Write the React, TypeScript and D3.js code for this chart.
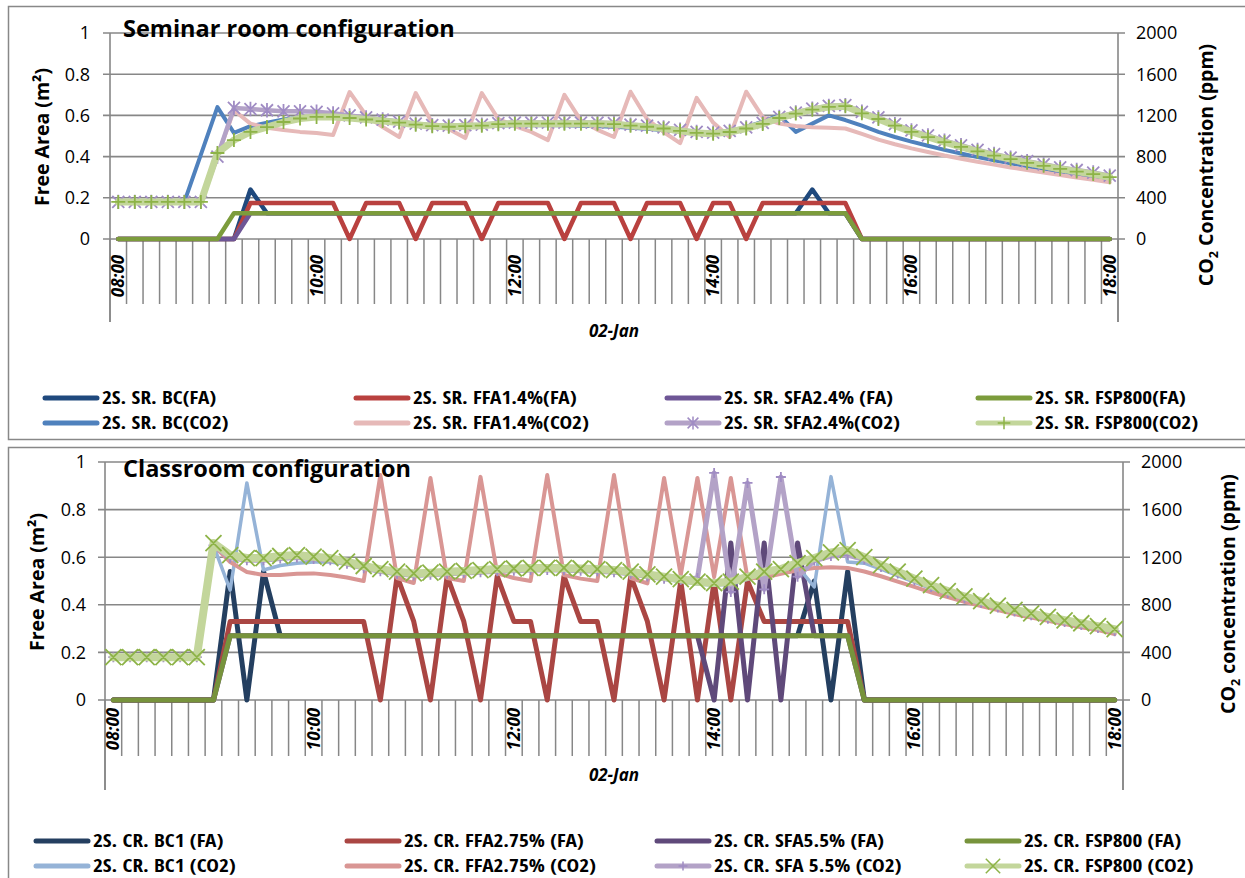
import React from "react";
import * as d3 from "d3";

// ---------- categories & ticks ----------
const CATEGORIES: string[] = d3.range(61).map((i) => {
  const m = 8 * 60 + i * 10;
  return `${String(Math.floor(m / 60)).padStart(2, "0")}:${String(m % 60).padStart(2, "0")}`;
});
const TICK_LABELS = ["08:00", "10:00", "12:00", "14:00", "16:00", "18:00"];
const DATE_LABEL = "02-Jan";
const FA_TICKS = [0, 0.2, 0.4, 0.6, 0.8, 1];
const CO2_TICKS = [0, 400, 800, 1200, 1600, 2000];

// ---------- Seminar room (top) ----------
const srBcFa = [
  0, 0, 0, 0, 0, 0, 0, 0, 0.24, 0.125,
  0.125, 0.125, 0.125, 0.125, 0.125, 0.125, 0.125, 0.125, 0.125, 0.125,
  0.125, 0.125, 0.125, 0.125, 0.125, 0.125, 0.125, 0.125, 0.125, 0.125,
  0.125, 0.125, 0.125, 0.125, 0.125, 0.125, 0.125, 0.125, 0.125, 0.125,
  0.125, 0.125, 0.24, 0.125, 0.125, 0, 0, 0, 0, 0,
  0, 0, 0, 0, 0, 0, 0, 0, 0, 0,
  0,
];
const srFfaFa = [
  0, 0, 0, 0, 0, 0, 0, 0, 0.175, 0.175,
  0.175, 0.175, 0.175, 0.175, 0, 0.175, 0.175, 0.175, 0, 0.175,
  0.175, 0.175, 0, 0.175, 0.175, 0.175, 0.175, 0, 0.175, 0.175,
  0.175, 0, 0.175, 0.175, 0.175, 0, 0.175, 0.175, 0, 0.175,
  0.175, 0.175, 0.175, 0.175, 0.175, 0, 0, 0, 0, 0,
  0, 0, 0, 0, 0, 0, 0, 0, 0, 0,
  0,
];
const srSfaFa = [
  0, 0, 0, 0, 0, 0, 0, 0, 0.125, 0.125,
  0.125, 0.125, 0.125, 0.125, 0.125, 0.125, 0.125, 0.125, 0.125, 0.125,
  0.125, 0.125, 0.125, 0.125, 0.125, 0.125, 0.125, 0.125, 0.125, 0.125,
  0.125, 0.125, 0.125, 0.125, 0.125, 0.125, 0.125, 0.125, 0.125, 0.125,
  0.125, 0.125, 0.125, 0.125, 0.125, 0, 0, 0, 0, 0,
  0, 0, 0, 0, 0, 0, 0, 0, 0, 0,
  0,
];
const srFspFa = [
  0, 0, 0, 0, 0, 0, 0, 0.125, 0.125, 0.125,
  0.125, 0.125, 0.125, 0.125, 0.125, 0.125, 0.125, 0.125, 0.125, 0.125,
  0.125, 0.125, 0.125, 0.125, 0.125, 0.125, 0.125, 0.125, 0.125, 0.125,
  0.125, 0.125, 0.125, 0.125, 0.125, 0.125, 0.125, 0.125, 0.125, 0.125,
  0.125, 0.125, 0.125, 0.125, 0.125, 0, 0, 0, 0, 0,
  0, 0, 0, 0, 0, 0, 0, 0, 0, 0,
  0,
];
const srBcCo2 = [
  360, 360, 360, 360, 360, 820, 1280, 1030, 1095, 1130,
  1160, 1180, 1190, 1185, 1170, 1155, 1140, 1125, 1115, 1105,
  1095, 1090, 1095, 1100, 1105, 1105, 1105, 1105, 1100, 1095,
  1090, 1080, 1070, 1055, 1040, 1025, 1020, 1040, 1085, 1140,
  1200, 1040, 1120, 1200, 1155, 1100, 1040, 990, 945, 905,
  865, 830, 795, 765, 735, 705, 680, 655, 630, 605,
  580,
];
const srFfaCo2 = [
  360, 360, 360, 360, 360, 360, 800, 1250, 1120, 1080,
  1058, 1040, 1030, 1010, 1427, 1200, 1087, 990, 1417, 1126,
  1068, 980, 1417, 1165, 1097, 1039, 960, 1400, 1150, 1060,
  990, 1430, 1165, 1039, 930, 1370, 1130, 990, 1430, 1184,
  1120, 1097, 1085, 1080, 1073, 1020, 965, 920, 880, 845,
  810, 780, 750, 722, 695, 670, 645, 620, 598, 575,
  550,
];
const srSfaCo2 = [
  360, 360, 360, 360, 360, 360, 800, 1272, 1262, 1250,
  1240, 1240, 1235, 1220, 1200, 1180, 1160, 1140, 1120, 1105,
  1100, 1105, 1110, 1125, 1130, 1130, 1130, 1130, 1130, 1130,
  1125, 1110, 1100, 1083, 1060, 1040, 1033, 1049, 1083, 1127,
  1185, 1228, 1266, 1292, 1300, 1235, 1180, 1115, 1055, 1005,
  955, 910, 865, 825, 790, 755, 725, 695, 670, 645,
  615,
];
const srFspCo2 = [
  360, 360, 360, 360, 360, 360, 835, 960, 1040, 1087,
  1136, 1170, 1185, 1185, 1175, 1160, 1145, 1130, 1110, 1095,
  1090, 1095, 1100, 1115, 1120, 1120, 1120, 1120, 1120, 1120,
  1115, 1100, 1090, 1073, 1050, 1030, 1023, 1039, 1073, 1117,
  1175, 1218, 1256, 1282, 1290, 1220, 1165, 1100, 1040, 990,
  940, 895, 850, 810, 775, 740, 710, 680, 655, 630,
  600,
];

// ---------- Classroom (bottom) ----------
const crBc1Fa = [
  0, 0, 0, 0, 0, 0, 0, 0.54, 0, 0.54,
  0.27, 0.27, 0.27, 0.27, 0.27, 0.27, 0.27, 0.27, 0.27, 0.27,
  0.27, 0.27, 0.27, 0.27, 0.27, 0.27, 0.27, 0.27, 0.27, 0.27,
  0.27, 0.27, 0.27, 0.27, 0.27, 0.27, 0.27, 0.27, 0.27, 0.27,
  0.27, 0.27, 0.5, 0, 0.54, 0, 0, 0, 0, 0,
  0, 0, 0, 0, 0, 0, 0, 0, 0, 0,
  0,
];
const crFfaFa = [
  0, 0, 0, 0, 0, 0, 0, 0.33, 0.33, 0.33,
  0.33, 0.33, 0.33, 0.33, 0.33, 0.33, 0, 0.52, 0.33, 0,
  0.52, 0.33, 0, 0.52, 0.33, 0.33, 0, 0.52, 0.33, 0.33,
  0, 0.52, 0.33, 0, 0.5, 0, 0.5, 0, 0.5, 0.33,
  0.33, 0.33, 0.33, 0.33, 0.33, 0, 0, 0, 0, 0,
  0, 0, 0, 0, 0, 0, 0, 0, 0, 0,
  0,
];
const crSfaFa = [
  0, 0, 0, 0, 0, 0, 0, 0.27, 0.27, 0.27,
  0.27, 0.27, 0.27, 0.27, 0.27, 0.27, 0.27, 0.27, 0.27, 0.27,
  0.27, 0.27, 0.27, 0.27, 0.27, 0.27, 0.27, 0.27, 0.27, 0.27,
  0.27, 0.27, 0.27, 0.27, 0.27, 0.27, 0, 0.66, 0, 0.66,
  0, 0.66, 0.27, 0.27, 0.27, 0, 0, 0, 0, 0,
  0, 0, 0, 0, 0, 0, 0, 0, 0, 0,
  0,
];
const crFspFa = [
  0, 0, 0, 0, 0, 0, 0, 0.27, 0.27, 0.27,
  0.27, 0.27, 0.27, 0.27, 0.27, 0.27, 0.27, 0.27, 0.27, 0.27,
  0.27, 0.27, 0.27, 0.27, 0.27, 0.27, 0.27, 0.27, 0.27, 0.27,
  0.27, 0.27, 0.27, 0.27, 0.27, 0.27, 0.27, 0.27, 0.27, 0.27,
  0.27, 0.27, 0.27, 0.27, 0.27, 0, 0, 0, 0, 0,
  0, 0, 0, 0, 0, 0, 0, 0, 0, 0,
  0,
];
const crBc1Co2 = [
  360, 360, 360, 360, 360, 360, 1300, 924, 1824, 1092,
  1130, 1150, 1160, 1160, 1140, 1105, 1075, 1055, 1045, 1050,
  1058, 1065, 1072, 1080, 1085, 1090, 1090, 1090, 1085, 1080,
  1072, 1058, 1035, 1015, 995, 975, 965, 975, 1015, 1055,
  1080, 1120, 950, 1877, 1160, 1150, 1100, 1045, 990, 935,
  885, 840, 800, 765, 730, 700, 672, 645, 620, 597,
  572,
];
const crFfaCo2 = [
  360, 360, 360, 360, 360, 360, 1300, 1160, 1076, 1050,
  1050, 1060, 1064, 1050, 1030, 1000, 1890, 1025, 983, 1866,
  1025, 1000, 1875, 1064, 1025, 1000, 1890, 1050, 1020, 1000,
  1890, 1025, 980, 1866, 1050, 1866, 1034, 1866, 1022, 1030,
  1060, 1090, 1110, 1115, 1110, 1080, 1040, 995, 950, 905,
  865, 825, 790, 755, 722, 692, 665, 638, 612, 588,
  555,
];
const crSfaCo2 = [
  360, 360, 360, 360, 360, 360, 1300, 1195, 1175, 1175,
  1190, 1198, 1185, 1175, 1145, 1108, 1082, 1060, 1046, 1052,
  1060, 1067, 1074, 1082, 1087, 1092, 1092, 1092, 1087, 1082,
  1074, 1060, 1037, 1018, 1008, 1025, 1908, 908, 1824, 930,
  1874, 1036, 1170, 1210, 1218, 1180, 1118, 1062, 1005, 950,
  900, 855, 815, 778, 743, 712, 683, 655, 630, 605,
  578,
];
const crFspCo2 = [
  360, 360, 360, 360, 360, 360, 1319, 1218, 1193, 1193,
  1210, 1218, 1204, 1193, 1162, 1126, 1100, 1078, 1064, 1070,
  1078, 1085, 1092, 1100, 1105, 1110, 1110, 1110, 1105, 1100,
  1092, 1078, 1055, 1036, 1015, 994, 983, 994, 1036, 1078,
  1100, 1151, 1193, 1240, 1260, 1200, 1134, 1078, 1020, 965,
  915, 870, 830, 793, 758, 727, 698, 670, 645, 620,
  595,
];

const SR_LABELS = [
  "2S. SR. BC(FA)", "2S. SR. FFA1.4%(FA)", "2S. SR. SFA2.4% (FA)", "2S. SR. FSP800(FA)",
  "2S. SR. BC(CO2)", "2S. SR. FFA1.4%(CO2)", "2S. SR. SFA2.4%(CO2)", "2S. SR. FSP800(CO2)",
];
const CR_LABELS = [
  "2S. CR. BC1 (FA)", "2S. CR. FFA2.75% (FA)", "2S. CR. SFA5.5% (FA)", "2S. CR. FSP800 (FA)",
  "2S. CR. BC1 (CO2)", "2S. CR. FFA2.75% (CO2)", "2S. CR. SFA 5.5% (CO2)", "2S. CR. FSP800 (CO2)",
];

type Marker = "none" | "plus" | "cross" | "star";
interface Series {
  label: string;
  data: number[];
  axis: "L" | "R";
  color: string;
  width: number;
  marker: Marker;
  markerColor?: string;
  markerSize?: number;
}

const SR_SERIES: Series[] = [
  { label: SR_LABELS[0], data: srBcFa, axis: "L", color: "#1F497D", width: 4.5, marker: "none" },
  { label: SR_LABELS[1], data: srFfaFa, axis: "L", color: "#B9413F", width: 4.5, marker: "none" },
  { label: SR_LABELS[2], data: srSfaFa, axis: "L", color: "#6E5696", width: 4.5, marker: "none" },
  { label: SR_LABELS[3], data: srFspFa, axis: "L", color: "#7C9C3C", width: 4.5, marker: "none" },
  { label: SR_LABELS[4], data: srBcCo2, axis: "R", color: "#4F81BD", width: 4, marker: "none" },
  { label: SR_LABELS[5], data: srFfaCo2, axis: "R", color: "#E6B9B8", width: 4, marker: "none" },
  { label: SR_LABELS[6], data: srSfaCo2, axis: "R", color: "#B3A2C7", width: 4.5, marker: "star", markerColor: "#A08CC4", markerSize: 6 },
  { label: SR_LABELS[7], data: srFspCo2, axis: "R", color: "#C3D69B", width: 7, marker: "plus", markerColor: "#8DB347", markerSize: 7 },
];
const CR_SERIES: Series[] = [
  { label: CR_LABELS[0], data: crBc1Fa, axis: "L", color: "#243F60", width: 5, marker: "none" },
  { label: CR_LABELS[1], data: crFfaFa, axis: "L", color: "#AA4643", width: 5, marker: "none" },
  { label: CR_LABELS[2], data: crSfaFa, axis: "L", color: "#5F497A", width: 5, marker: "none" },
  { label: CR_LABELS[3], data: crFspFa, axis: "L", color: "#77933C", width: 5, marker: "none" },
  { label: CR_LABELS[4], data: crBc1Co2, axis: "R", color: "#95B3D7", width: 3.5, marker: "none" },
  { label: CR_LABELS[5], data: crFfaCo2, axis: "R", color: "#D99694", width: 4, marker: "none" },
  { label: CR_LABELS[6], data: crSfaCo2, axis: "R", color: "#B3A2C7", width: 5, marker: "plus", markerColor: "#A08CC4", markerSize: 5 },
  { label: CR_LABELS[7], data: crFspCo2, axis: "R", color: "#C3D69B", width: 8, marker: "cross", markerColor: "#8DB347", markerSize: 8 },
];

const GRID = "#878787";
const FONT = "'Open Sans', 'Noto Sans', sans-serif";
const LEGEND_FONT = "'Liberation Sans Narrow', 'Open Sans Condensed', 'Noto Sans', sans-serif";

function markerPath(m: Marker, x: number, y: number, s: number): string {
  if (m === "plus") return `M${x - s},${y}H${x + s}M${x},${y - s}V${y + s}`;
  if (m === "cross") return `M${x - s},${y - s}L${x + s},${y + s}M${x - s},${y + s}L${x + s},${y - s}`;
  if (m === "star")
    return `M${x - s},${y - s}L${x + s},${y + s}M${x - s},${y + s}L${x + s},${y - s}M${x},${y - s * 1.2}V${y + s * 1.2}`;
  return "";
}

interface PanelProps {
  series: Series[];
  title: string;
  titleY: number;
  left: number;
  right: number;
  top: number;
  bottom: number;
  tickBottom: number;
  axisBottom: number;
  catLabelY: number;
  dateY: number;
  leftTitle: { x: number; y: number };
  rightTitle: { x: number; y: number; text: string };
  leftLabelX: number;
  rightLabelX: number;
  legendRows: number[];
  legendCols: number[];
  frameY: number;
  frameH: number;
}

function Panel(p: PanelProps) {
  const x = d3.scaleBand<string>().domain(CATEGORIES).range([p.left, p.right]).padding(0);
  const bw = x.bandwidth();
  const cx = (i: number) => (x(CATEGORIES[i]) as number) + bw / 2;
  const yL = d3.scaleLinear().domain([0, 1]).range([p.bottom, p.top]);
  const yR = d3.scaleLinear().domain([0, 2000]).range([p.bottom, p.top]);
  const lineL = d3.line<number>().x((_, i) => cx(i)).y((d) => yL(d));
  const lineR = d3.line<number>().x((_, i) => cx(i)).y((d) => yR(d));

  const boundaries = d3.range(CATEGORIES.length + 1).map((k) => p.left + k * bw);

  return (
    <g>
      <rect x={8.5} y={p.frameY} width={1260} height={p.frameH} fill="#fff" stroke="#888" strokeWidth={1.5} />
      {FA_TICKS.map((t) => (
        <line key={"g" + t} x1={p.left - 7} x2={p.right + 7} y1={yL(t)} y2={yL(t)} stroke={GRID} strokeWidth={1.6} />
      ))}
      {boundaries.map((bx, k) => (
        <line
          key={"t" + k}
          x1={bx}
          x2={bx}
          y1={p.bottom}
          y2={k === 0 || k === CATEGORIES.length ? p.axisBottom : p.tickBottom}
          stroke={GRID}
          strokeWidth={1.5}
        />
      ))}
      <line x1={p.left} x2={p.left} y1={p.top} y2={p.axisBottom} stroke={GRID} strokeWidth={1.6} />
      <line x1={p.right} x2={p.right} y1={p.top} y2={p.axisBottom} stroke={GRID} strokeWidth={1.6} />
      {FA_TICKS.map((t) => (
        <text key={"l" + t} x={p.leftLabelX} y={yL(t)} dy="0.35em" textAnchor="end" fontFamily={FONT} fontSize={18}>
          {t === 0 || t === 1 ? String(t) : t.toFixed(1)}
        </text>
      ))}
      {CO2_TICKS.map((t) => (
        <text key={"r" + t} x={p.rightLabelX} y={yR(t)} dy="0.35em" textAnchor="start" fontFamily={FONT} fontSize={18}>
          {t}
        </text>
      ))}
      {CATEGORIES.map((c, i) =>
        TICK_LABELS.includes(c) ? (
          <text
            key={"c" + c}
            transform={`translate(${cx(i) + 6},${p.catLabelY}) rotate(-90)`}
            textAnchor="middle"
            fontFamily={FONT}
            fontSize={17}
            fontWeight="bold"
            fontStyle="italic"
          >
            {c}
          </text>
        ) : null
      )}
      <text x={(p.left + p.right) / 2} y={p.dateY} textAnchor="middle" fontFamily={FONT} fontSize={17} fontWeight="bold" fontStyle="italic">
        {DATE_LABEL}
      </text>
      <text
        transform={`translate(${p.leftTitle.x},${p.leftTitle.y}) rotate(-90)`}
        textAnchor="middle"
        dy="0.35em"
        fontFamily={FONT}
        fontSize={19.5}
        fontWeight="bold"
      >
        Free Area (m²)
      </text>
      <text
        transform={`translate(${p.rightTitle.x},${p.rightTitle.y}) rotate(-90)`}
        textAnchor="middle"
        dy="0.35em"
        fontFamily={FONT}
        fontSize={19.5}
        fontWeight="bold"
      >
        CO
        <tspan dy={5} fontSize={12.5}>2</tspan>
        <tspan dy={-5}>{" " + p.rightTitle.text}</tspan>
      </text>
      {p.series.map((s, si) => {
        const ln = s.axis === "L" ? lineL : lineR;
        const ys = s.axis === "L" ? yL : yR;
        const d = ln(s.data) || "";
        const mk =
          s.marker !== "none"
            ? s.data.map((v, i) => markerPath(s.marker, cx(i), ys(v), s.markerSize || 6)).join("")
            : "";
        return (
          <g key={"s" + si}>
            <path d={d} fill="none" stroke={s.color} strokeWidth={s.width} strokeLinejoin="round" strokeLinecap="round" />
            {mk && <path d={mk} fill="none" stroke={s.markerColor} strokeWidth={1.8} />}
          </g>
        );
      })}
      <text x={123} y={p.titleY} fontFamily={FONT} fontSize={23.5} fontWeight="bold">
        {p.title}
      </text>
      {p.series.map((s, si) => {
        const row = Math.floor(si / 4);
        const col = si % 4;
        const lx = p.legendCols[col];
        const ly = p.legendRows[row];
        const mx = lx + 26;
        return (
          <g key={"lg" + si}>
            <line x1={lx} x2={lx + 52} y1={ly} y2={ly} stroke={s.color} strokeWidth={5} strokeLinecap="round" />
            {s.marker !== "none" && (
              <path d={markerPath(s.marker, mx, ly, (s.markerSize || 6) * 0.9)} fill="none" stroke={s.markerColor} strokeWidth={1.5} />
            )}
            <text
              transform={`translate(${lx + 57},${ly}) scale(1.15,1)`}
              dy="0.35em"
              fontFamily={LEGEND_FONT}
              fontSize={18.5}
              fontWeight="bold"
            >
              {s.label}
            </text>
          </g>
        );
      })}
    </g>
  );
}

export default function App() {
  return (
    <svg
      width={1245}
      height={878}
      viewBox="0 0 1245 878"
      style={{ position: "absolute", left: 0, top: 0, display: "block", background: "#fff" }}
    >
      <rect x={0} y={0} width={1245} height={878} fill="#fff" />
      <Panel
        series={SR_SERIES}
        title="Seminar room configuration"
        titleY={37}
        left={110}
        right={1118}
        top={33}
        bottom={239}
        tickBottom={304}
        axisBottom={322}
        catLabelY={276}
        dateY={337}
        leftTitle={{ x: 42, y: 137 }}
        rightTitle={{ x: 1206, y: 165, text: "Concentration (ppm)" }}
        leftLabelX={90}
        rightLabelX={1136}
        legendRows={[398, 423]}
        legendCols={[45, 356, 667, 978]}
        frameY={6.5}
        frameH={433}
      />
      <Panel
        series={CR_SERIES}
        title="Classroom configuration"
        titleY={477}
        left={105}
        right={1123}
        top={462}
        bottom={700}
        tickBottom={756}
        axisBottom={790}
        catLabelY={729}
        dateY={781}
        leftTitle={{ x: 37, y: 582 }}
        rightTitle={{ x: 1228, y: 594, text: "concentration (ppm)" }}
        leftLabelX={86}
        rightLabelX={1141}
        legendRows={[841, 866]}
        legendCols={[36, 347, 657, 967]}
        frameY={447.5}
        frameH={460}
      />
    </svg>
  );
}
